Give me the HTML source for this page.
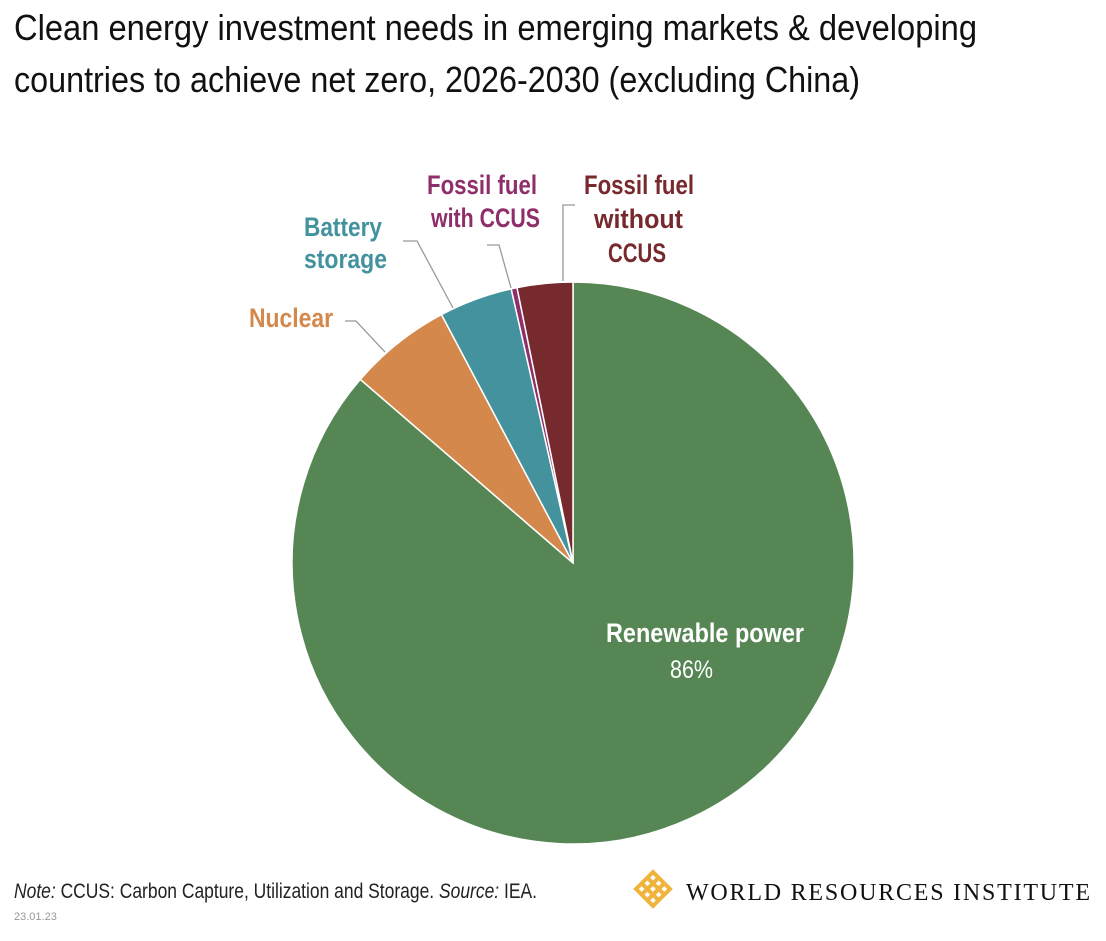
<!DOCTYPE html>
<html><head><meta charset="utf-8"><style>
body{margin:0;background:#fff;width:1106px;height:936px;overflow:hidden;font-family:"Liberation Sans",sans-serif}
</style></head><body>
<svg width="1106" height="936" xmlns="http://www.w3.org/2000/svg" font-family="'Liberation Sans',sans-serif">
<text x="14" y="40" font-size="36" fill="#111" textLength="963" lengthAdjust="spacingAndGlyphs">Clean energy investment needs in emerging markets &amp; developing</text>
<text x="14" y="92" font-size="36" fill="#111" textLength="846" lengthAdjust="spacingAndGlyphs">countries to achieve net zero, 2026-2030 (excluding China)</text>
<g stroke="#fff" stroke-width="1.5">
<path d="M573,563 L573,282 A281,281 0 1 1 360.3,379.4 Z" fill="#558654"/>
<path d="M573,563 L360.3,379.4 A281,281 0 0 1 441.5,314.6 Z" fill="#d4884c"/>
<path d="M573,563 L441.5,314.6 A281,281 0 0 1 511.2,288.9 Z" fill="#43929e"/>
<path d="M573,563 L511.2,288.9 A281,281 0 0 1 517,287.6 Z" fill="#8e2e6a"/>
<path d="M573,563 L517,287.6 A281,281 0 0 1 573,282 Z" fill="#772a2d"/>
</g>
<g stroke="#999" stroke-width="1.3" fill="none">
<polyline points="345,321 356,321 385,352"/>
<polyline points="403,241 417,241 453,308"/>
<polyline points="487,245 499,245 511,288"/>
<polyline points="575,205 563,205 563,281"/>
</g>
<g font-weight="bold" font-size="27" lengthAdjust="spacingAndGlyphs">
<text x="249" y="327" fill="#d4884c" textLength="84" lengthAdjust="spacingAndGlyphs">Nuclear</text>
<text x="304" y="236" fill="#43929e" textLength="78" lengthAdjust="spacingAndGlyphs">Battery</text>
<text x="304" y="268" fill="#43929e" textLength="83" lengthAdjust="spacingAndGlyphs">storage</text>
<text x="427" y="194" fill="#8e2e6a" textLength="110" lengthAdjust="spacingAndGlyphs">Fossil fuel</text>
<text x="431" y="227" fill="#8e2e6a" textLength="109" lengthAdjust="spacingAndGlyphs">with CCUS</text>
<text x="584" y="194" fill="#772a2d" textLength="110" lengthAdjust="spacingAndGlyphs">Fossil fuel</text>
<text x="594" y="228" fill="#772a2d" textLength="89" lengthAdjust="spacingAndGlyphs">without</text>
<text x="608" y="262" fill="#772a2d" textLength="58" lengthAdjust="spacingAndGlyphs">CCUS</text>
<text x="606" y="642" fill="#fff" textLength="198" lengthAdjust="spacingAndGlyphs">Renewable power</text>
</g>
<text x="670" y="678" fill="#fff" font-size="25" textLength="43" lengthAdjust="spacingAndGlyphs">86%</text>
<text x="14" y="898" font-size="21" fill="#222" textLength="523" lengthAdjust="spacingAndGlyphs"><tspan font-style="italic">Note:</tspan> CCUS: Carbon Capture, Utilization and Storage. <tspan font-style="italic">Source:</tspan> IEA.</text>
<text x="14" y="920" font-size="11" fill="#999">23.01.23</text>
<g transform="translate(653,889) rotate(45)" stroke="#f0b43c" stroke-width="4" fill="none">
<rect x="-12" y="-12" width="24" height="24"/>
<line x1="-12" y1="-4" x2="12" y2="-4"/><line x1="-12" y1="4" x2="12" y2="4"/>
<line x1="-4" y1="-12" x2="-4" y2="12"/><line x1="4" y1="-12" x2="4" y2="12"/>
</g>
<text x="686" y="900" font-family="'Liberation Serif',serif" font-size="24" fill="#111" textLength="404" lengthAdjust="spacing">WORLD RESOURCES INSTITUTE</text>
</svg>
</body></html>
